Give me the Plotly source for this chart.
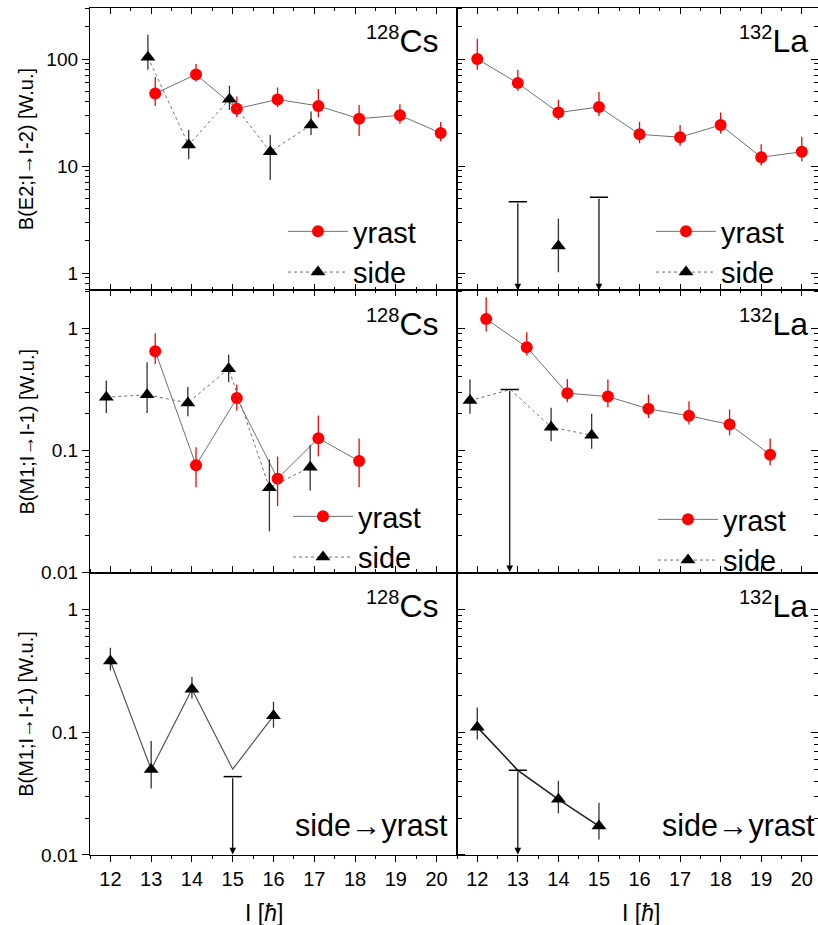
import numpy as np
import plotly.graph_objects as go
from plotly.subplots import make_subplots

# ---------------- data ----------------
# 128Cs  B(E2; I -> I-2)
cs_e2_yrast_spin = [13, 14, 15, 16, 17, 18, 19, 20]
cs_e2_yrast_val = [47.7, 71.8, 34.4, 41.9, 36.5, 27.7, 29.8, 20.4]
cs_e2_yrast_hi = [67.8, 89.7, 44.7, 54.2, 52.4, 37.3, 37.9, 25.8]
cs_e2_yrast_lo = [36.5, 61.6, 28.6, 35.5, 28.6, 19.1, 24.8, 17.1]
cs_e2_side_spin = [13, 14, 15, 16, 17]
cs_e2_side_val = [104, 15.7, 42.2, 13.6, 24.2]
cs_e2_side_hi = [169, 21.7, 56.2, 19.5, 32.3]
cs_e2_side_lo = [79.4, 11.6, 33.5, 7.4, 19.5]

# 132La  B(E2; I -> I-2)
la_e2_yrast_spin = [12, 13, 14, 15, 16, 17, 18, 19, 20]
la_e2_yrast_val = [100, 59.6, 31.6, 35.7, 19.8, 18.6, 24.2, 12.1, 13.6]
la_e2_yrast_hi = [155, 79.4, 41.6, 49.1, 26.0, 24.2, 31.6, 16.0, 18.8]
la_e2_yrast_lo = [79.4, 50.5, 27.0, 29.4, 16.3, 15.5, 20.2, 10.1, 11.1]
la_e2_side_spin = [14]
la_e2_side_val = [1.79]
la_e2_side_hi = [3.24]
la_e2_side_lo = [1.02]
la_e2_limit_spin = [13, 15]
la_e2_limit_val = [4.63, 5.1]

# 128Cs  B(M1; I -> I-1)
cs_m1_yrast_spin = [13, 14, 15, 16, 17, 18]
cs_m1_yrast_val = [0.649, 0.0755, 0.268, 0.0588, 0.126, 0.0818]
cs_m1_yrast_hi = [0.91, 0.106, 0.347, 0.0893, 0.193, 0.125]
cs_m1_yrast_lo = [0.51, 0.050, 0.212, 0.035, 0.0898, 0.050]
cs_m1_side_spin = [12, 13, 14, 15, 16, 17]
cs_m1_side_val = [0.273, 0.285, 0.245, 0.466, 0.0496, 0.073]
cs_m1_side_hi = [0.374, 0.527, 0.33, 0.606, 0.0844, 0.111]
cs_m1_side_lo = [0.202, 0.202, 0.19, 0.362, 0.0218, 0.047]

# 132La  B(M1; I -> I-1)
la_m1_yrast_spin = [12, 13, 14, 15, 16, 17, 18, 19]
la_m1_yrast_val = [1.19, 0.70, 0.294, 0.276, 0.219, 0.192, 0.163, 0.0923]
la_m1_yrast_hi = [1.79, 0.927, 0.385, 0.381, 0.287, 0.253, 0.216, 0.125]
la_m1_yrast_lo = [0.94, 0.598, 0.248, 0.226, 0.184, 0.163, 0.133, 0.0755]
la_m1_side_spin = [12, 14, 15]
la_m1_side_val = [0.256, 0.155, 0.133]
la_m1_side_hi = [0.381, 0.223, 0.200]
la_m1_side_lo = [0.200, 0.119, 0.103]
la_m1_limit_spin = [13]
la_m1_limit_val = [0.315]

# 128Cs  B(M1; side -> yrast)
cs_sy_spin = [12, 13, 14, 16]
cs_sy_val = [0.38, 0.0498, 0.224, 0.136]
cs_sy_hi = [0.489, 0.085, 0.282, 0.177]
cs_sy_lo = [0.319, 0.0348, 0.188, 0.109]
cs_sy_limit_spin = [15]
cs_sy_limit_val = [0.0435]
cs_sy_line_at_limit = [0.050]

# 132La  B(M1; side -> yrast)
la_sy_spin = [12, 14, 15]
la_sy_val = [0.110, 0.0284, 0.0172]
la_sy_hi = [0.159, 0.0402, 0.0266]
la_sy_lo = [0.0872, 0.0218, 0.0134]
la_sy_limit_spin = [13]
la_sy_limit_val = [0.049]

x_ticks = [12, 13, 14, 15, 16, 17, 18, 19, 20]

# ---------------- styling ----------------
RED = "#ff0000"
BLK = "#000000"
LINE_GREY = "#707070"
SANS = "Liberation Sans, Arial, sans-serif"

W, H = 818, 925
ML, MR, MT, MB = 90, 0, 8, 70
PW, PH = W - ML - MR, H - MT - MB

fig = make_subplots(rows=3, cols=2, horizontal_spacing=0, vertical_spacing=0,
                    column_widths=[367, 361])


def shift(sp, off):
    return [s + off for s in sp]


def errs(val, hi, lo):
    return ([h - v for v, h in zip(val, hi)], [v - l for v, l in zip(val, lo)])


def add_series(row, col, spin, val, hi, lo, off, kind, legend=None, showlegend=False,
               line_x=None, line_y=None, line_dash="solid", line_color=LINE_GREY, line_w=1):
    ep, em = errs(val, hi, lo)
    if kind == "yrast":
        mk = dict(symbol="circle", size=12, color=RED)
        ecol = RED
        name = "yrast"
    else:
        mk = dict(symbol="triangle-up", size=13, color=BLK)
        ecol = "#333333"
        name = "side"
    xs = shift(spin, off)
    lx = xs if line_x is None else line_x
    ly = val if line_y is None else line_y
    fig.add_trace(go.Scatter(x=lx, y=ly, mode="lines",
                             line=dict(color=line_color, width=line_w, dash=line_dash),
                             showlegend=False, hoverinfo="skip"), row=row, col=col)
    fig.add_trace(go.Scatter(x=xs, y=val, mode="markers", marker=mk, name=name,
                             error_y=dict(type="data", symmetric=False, array=ep, arrayminus=em,
                                          color=ecol, thickness=1.3, width=0),
                             showlegend=False), row=row, col=col)
    if showlegend:
        fig.add_trace(go.Scatter(x=[None], y=[None], mode="lines+markers", marker=mk,
                                 line=dict(color=LINE_GREY, width=1, dash=line_dash),
                                 name=name, legend=legend, showlegend=True),
                      row=row, col=col)


def add_limits(row, col, spin, val, off, axis_bottom, xref, yref):
    xs = shift(spin, off)
    fig.add_trace(go.Scatter(x=xs, y=val, mode="markers",
                             marker=dict(symbol="line-ew-open", size=13, color=BLK,
                                         line=dict(color=BLK, width=1.5)),
                             showlegend=False, hoverinfo="skip"), row=row, col=col)
    for x, v in zip(xs, val):
        fig.add_annotation(x=x, y=np.log10(axis_bottom), ax=x, ay=np.log10(v),
                           xref=xref, yref=yref, axref=xref, ayref=yref,
                           showarrow=True, arrowhead=2, arrowsize=1.1, arrowwidth=1.2,
                           arrowcolor=BLK, text="", standoff=0, startstandoff=0)


# ---- row 1 ----
add_series(1, 1, cs_e2_yrast_spin, cs_e2_yrast_val, cs_e2_yrast_hi, cs_e2_yrast_lo, 0.1,
           "yrast", legend="legend", showlegend=True)
add_series(1, 1, cs_e2_side_spin, cs_e2_side_val, cs_e2_side_hi, cs_e2_side_lo, -0.08,
           "side", legend="legend", showlegend=True, line_dash="dot")

add_series(1, 2, la_e2_yrast_spin, la_e2_yrast_val, la_e2_yrast_hi, la_e2_yrast_lo, 0.0,
           "yrast", legend="legend2", showlegend=True)
add_series(1, 2, la_e2_side_spin, la_e2_side_val, la_e2_side_hi, la_e2_side_lo, 0.0,
           "side", legend="legend2", showlegend=True, line_dash="dot")
add_limits(1, 2, la_e2_limit_spin, la_e2_limit_val, 0.0, 0.69, "x2", "y2")

# ---- row 2 ----
add_series(2, 1, cs_m1_yrast_spin, cs_m1_yrast_val, cs_m1_yrast_hi, cs_m1_yrast_lo, 0.1,
           "yrast", legend="legend3", showlegend=True)
add_series(2, 1, cs_m1_side_spin, cs_m1_side_val, cs_m1_side_hi, cs_m1_side_lo, -0.1,
           "side", legend="legend3", showlegend=True, line_dash="dot")

add_series(2, 2, la_m1_yrast_spin, la_m1_yrast_val, la_m1_yrast_hi, la_m1_yrast_lo, 0.22,
           "yrast", legend="legend4", showlegend=True)
la_m1_side_all = sorted(list(zip(la_m1_side_spin, la_m1_side_val)) +
                        list(zip(la_m1_limit_spin, la_m1_limit_val)))
add_series(2, 2, la_m1_side_spin, la_m1_side_val, la_m1_side_hi, la_m1_side_lo, -0.18,
           "side", legend="legend4", showlegend=True, line_dash="dot",
           line_x=[s - 0.18 for s, _ in la_m1_side_all], line_y=[v for _, v in la_m1_side_all])
add_limits(2, 2, la_m1_limit_spin, la_m1_limit_val, -0.2, 0.0101, "x4", "y4")

# ---- row 3 ----
cs_sy_all = sorted(list(zip(cs_sy_spin, cs_sy_val)) + list(zip(cs_sy_limit_spin, cs_sy_line_at_limit)))
add_series(3, 1, cs_sy_spin, cs_sy_val, cs_sy_hi, cs_sy_lo, 0.0, "side",
           line_x=[s for s, _ in cs_sy_all], line_y=[v for _, v in cs_sy_all],
           line_color="#555555", line_w=1.2)
add_limits(3, 1, cs_sy_limit_spin, cs_sy_limit_val, 0.0, 0.0101, "x5", "y5")

la_sy_all = sorted(list(zip(la_sy_spin, la_sy_val)) + list(zip(la_sy_limit_spin, la_sy_limit_val)))
add_series(3, 2, la_sy_spin, la_sy_val, la_sy_hi, la_sy_lo, 0.0, "side",
           line_x=[s for s, _ in la_sy_all], line_y=[v for _, v in la_sy_all],
           line_color="#222222", line_w=1.6)
add_limits(3, 2, la_sy_limit_spin, la_sy_limit_val, 0.0, 0.0101, "x6", "y6")

# ---------------- axes ----------------
yranges = {1: [np.log10(0.69), np.log10(300)], 2: [-2, 0.31], 3: [-2, 0.30]}
ytitles = {1: "B(E2;I→I-2) [W.u.]", 2: "B(M1;I→I-1) [W.u.]", 3: "B(M1;I→I-1) [W.u.]"}
minor_vals = [m * 10.0 ** e for e in range(-3, 3) for m in range(2, 10)]
major_vals = [10.0 ** e for e in range(-2, 3)]
major_text = ["0.01", "0.1", "1", "10", "100"]

for r in (1, 2, 3):
    for c in (1, 2):
        right = (c == 2)
        fig.update_yaxes(type="log", range=yranges[r], row=r, col=c,
                         tickvals=major_vals, ticktext=major_text,
                         showticklabels=not right,
                         ticks="inside" if right else "outside", ticklen=7, tickwidth=1,
                         tickcolor=BLK, showline=True, linecolor=BLK, linewidth=1.3,
                         mirror="allticks", showgrid=False, zeroline=False,
                         tickfont=dict(family=SANS, size=19, color=BLK),
                         minor=dict(tickvals=minor_vals, ticks="inside" if right else "outside",
                                    ticklen=4, tickcolor=BLK, showgrid=False))
        fig.update_xaxes(range=[11.5, 20.5] if c == 1 else [11.5, 20.4], row=r, col=c,
                         tickvals=x_ticks, showticklabels=(r == 3), tickangle=0,
                         ticks="outside" if r == 3 else "inside", ticklen=6, tickwidth=1,
                         tickcolor=BLK, showline=True, linecolor=BLK, linewidth=1.3,
                         mirror="allticks", showgrid=False, zeroline=False,
                         tickfont=dict(family=SANS, size=20, color=BLK),
                         minor=dict(tickvals=[x + 0.5 for x in range(11, 21)],
                                    ticks="outside" if r == 3 else "inside",
                                    ticklen=3, tickcolor=BLK, showgrid=False))

# axis titles as annotations
for r, yd in ((1, "y domain"), (2, "y3 domain"), (3, "y5 domain")):
    fig.add_annotation(text=ytitles[r], xref="paper", yref=yd, x=(26 - ML) / PW, y=0.5,
                       xanchor="center", yanchor="middle", textangle=-90, showarrow=False,
                       font=dict(family=SANS, size=20, color=BLK))
for xd, xc in (("x5 domain", 0.475), ("x6 domain", 0.51)):
    fig.add_annotation(text="I [<i>ħ</i>]", xref=xd, yref="paper", x=xc,
                       y=-(913 - (H - MB)) / PH, xanchor="center", yanchor="middle",
                       showarrow=False, font=dict(family=SANS, size=23, color=BLK))

# nucleus labels
nuc = {(1, 1): ("128", "Cs", "x domain", "y domain"),
       (1, 2): ("132", "La", "x2 domain", "y2 domain"),
       (2, 1): ("128", "Cs", "x3 domain", "y3 domain"),
       (2, 2): ("132", "La", "x4 domain", "y4 domain"),
       (3, 1): ("128", "Cs", "x5 domain", "y5 domain"),
       (3, 2): ("132", "La", "x6 domain", "y6 domain")}
for (r, c), (a, el, xr, yr) in nuc.items():
    fig.add_annotation(text=f"<sup><span style='font-size:20px'>{a}</span></sup>{el}",
                       xref=xr, yref=yr, x=0.953 if c == 1 else 0.978, y=0.96,
                       xanchor="right", yanchor="top", showarrow=False,
                       font=dict(family=SANS, size=32, color=BLK))

for xr, yr, xx in (("x5 domain", "y5 domain", 0.981), ("x6 domain", "y6 domain", 0.997)):
    fig.add_annotation(text="side→yrast", xref=xr, yref=yr, x=xx, y=0.035,
                       xanchor="right", yanchor="bottom", showarrow=False,
                       font=dict(family=SANS, size=30.5, color=BLK))


def px2paper(px, py):
    return (px - ML) / PW, (H - MB - py) / PH


leg_common = dict(xref="paper", yref="paper", bgcolor="rgba(0,0,0,0)",
                  font=dict(family=SANS, size=29, color=BLK), itemwidth=60,
                  xanchor="left", yanchor="top", tracegroupgap=0)
l1 = px2paper(283, 206)
l2 = px2paper(651, 206)
l3 = px2paper(288, 491)
l4 = px2paper(653, 494)
fig.update_layout(
    legend=dict(x=l1[0], y=l1[1], **leg_common),
    legend2=dict(x=l2[0], y=l2[1], **leg_common),
    legend3=dict(x=l3[0], y=l3[1], **leg_common),
    legend4=dict(x=l4[0], y=l4[1], **leg_common),
)

fig.update_layout(width=W, height=H, margin=dict(l=ML, r=MR, t=MT, b=MB, autoexpand=False),
                  paper_bgcolor="white", plot_bgcolor="white", showlegend=True)

# remove the default 8px page margin so the 818x925 figure fills the window exactly
fig.write_html("out.html", config={"displayModeBar": False},
               post_script="document.body.style.margin='0';document.body.style.overflow='hidden';")
